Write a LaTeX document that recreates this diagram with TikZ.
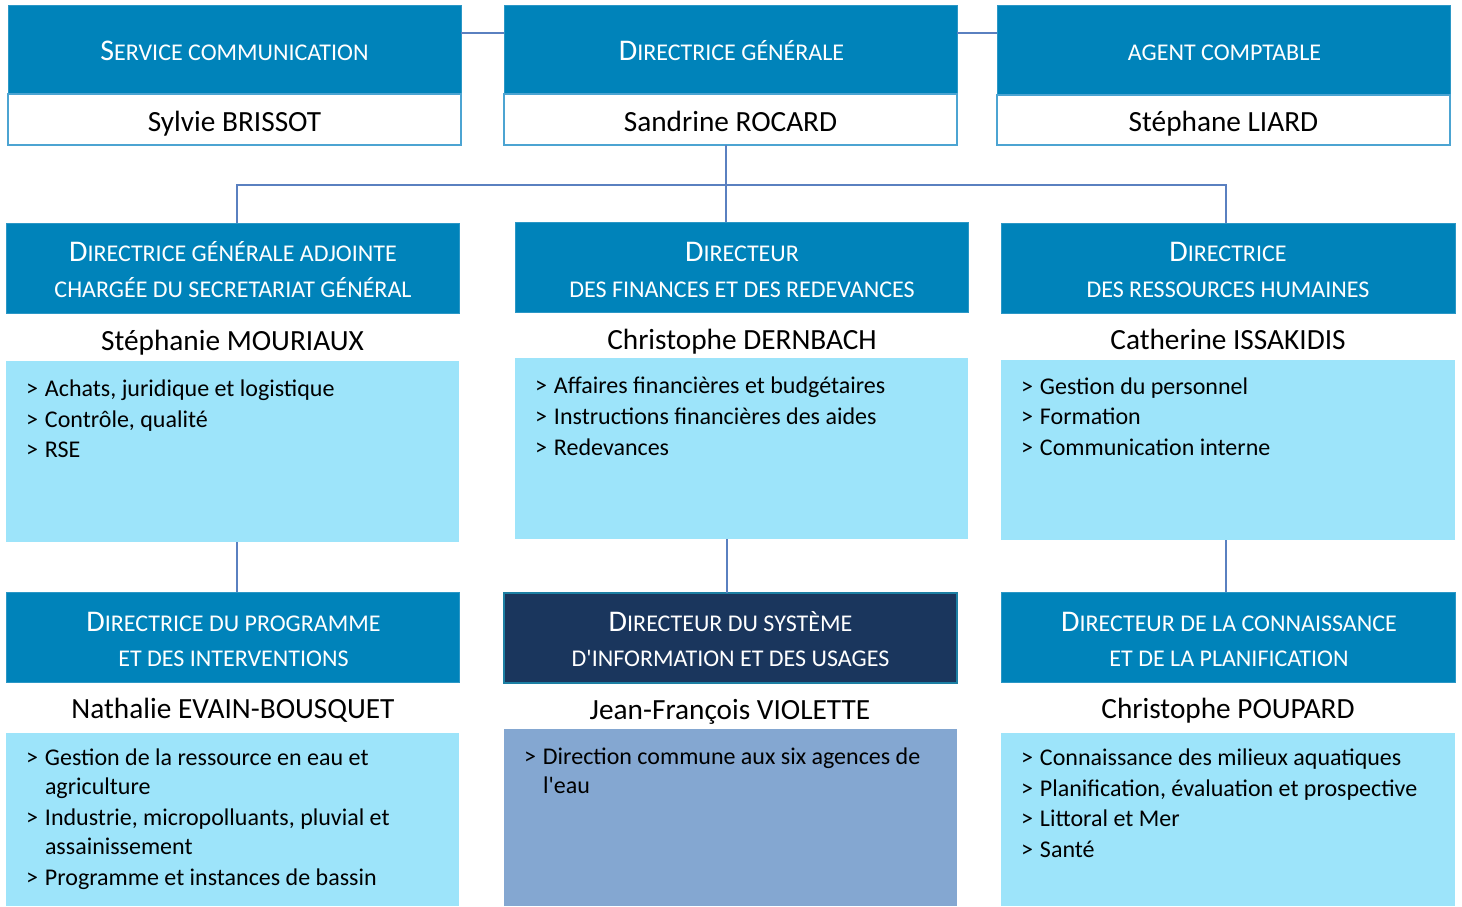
\documentclass[tikz,border=0pt]{standalone}
\usepackage{fontspec}
\setmainfont{Carlito}
\usetikzlibrary{calc}
\definecolor{hdrblue}{HTML}{0083BA}
\definecolor{hdredge}{HTML}{2B97C6}
\definecolor{lightcyan}{HTML}{9DE4FA}
\definecolor{navy}{HTML}{1A365D}
\definecolor{navyedge}{HTML}{1C7FA3}
\definecolor{steel}{HTML}{84A7D1}
\definecolor{linkblue}{HTML}{5A80C0}
\definecolor{nameedge}{HTML}{4CA4D2}
\newcommand\scT[2]{{\fontsize{30}{34}\selectfont #1}{\fontsize{24}{34}\selectfont #2}}
\newcommand\scS[1]{{\fontsize{24}{34}\selectfont #1}}
\newcommand\mkbox[6]{%
  \node[#1, minimum width={(#5-#3)*1pt}, minimum height={(#6-#4)*1pt}]
    (#2) at ({(#3+#5)/2},{(#4+#6)/2}) {};}
\newcommand\arr{\makebox[19pt][l]{>}}
\newcommand\ind{\makebox[19pt]{}}
\begin{document}
\begin{tikzpicture}[x=1pt,y=-1pt,
  every node/.style={inner sep=0pt, outer sep=0pt},
  hdr/.style={fill=hdrblue, draw=hdredge, line width=0.8pt},
  hdrdark/.style={fill=navy, draw=navyedge, line width=1.2pt},
  namebox/.style={fill=white, draw=nameedge, line width=1.2pt},
  listbox/.style={fill=lightcyan},
  listdark/.style={fill=steel},
  title/.style={text=white, anchor=base},
  person/.style={text=black, anchor=base, font=\fontsize{29.3}{34}\selectfont},
  item/.style={text=black, anchor=base west, font=\fontsize{24}{30}\selectfont},
  link/.style={draw=linkblue, line width=1.6pt}
]
\path[use as bounding box] (0,0) rectangle (1462,907);

% ---------- top row ----------
\mkbox{hdr}{h1}{8}{5}{461}{94}
\mkbox{namebox}{n1}{8}{94}{461}{145}
\mkbox{hdr}{h2}{504}{5}{957}{94}
\mkbox{namebox}{n2}{504}{94}{957}{145}
\mkbox{hdr}{h3}{997}{5}{1450}{95}
\mkbox{namebox}{n3}{997}{95}{1450}{145}

\node[title] (t1) at (234.5,60) {\scT{S}{ERVICE COMMUNICATION}};
\node[title] (t2) at (731.5,60) {\scT{D}{IRECTRICE GÉNÉRALE}};
\node[title] (t3) at (1224.5,60) {\scS{AGENT COMPTABLE}};
\node[person] (p1) at (234.5,131.5) {Sylvie BRISSOT};
\node[person] (p2) at (730.5,131.5) {Sandrine ROCARD};
\node[person] (p3) at (1223.5,131.5) {Stéphane LIARD};

% ---------- second row ----------
\mkbox{hdr}{d1}{6}{223}{459}{313}
\mkbox{hdr}{d2}{515}{222}{968}{312}
\mkbox{hdr}{d3}{1001}{223}{1455}{313}
\mkbox{listbox}{l1}{6}{361}{459}{542}
\mkbox{listbox}{l2}{515}{358}{968}{539}
\mkbox{listbox}{l3}{1001}{360}{1455}{540}

\node[title] (t4a) at (233,261) {\scT{D}{IRECTRICE GÉNÉRALE ADJOINTE}};
\node[title] (t4b) at (233,297) {\scS{CHARGÉE DU SECRETARIAT GÉNÉRAL}};
\node[title] (t5a) at (742,261) {\scT{D}{IRECTEUR}};
\node[title] (t5b) at (742,297) {\scS{DES FINANCES ET DES REDEVANCES}};
\node[title] (t6a) at (1228,261) {\scT{D}{IRECTRICE}};
\node[title] (t6b) at (1228,297) {\scS{DES RESSOURCES HUMAINES}};

\node[person] (p4) at (232.5,350.5) {Stéphanie MOURIAUX};
\node[person] (p5) at (742,349.5) {Christophe DERNBACH};
\node[person] (p6) at (1228,349.5) {Catherine ISSAKIDIS};

\node[item] (i1a) at (26,396) {\arr Achats, juridique et logistique};
\node[item] (i1b) at (26,427) {\arr Contrôle, qualité};
\node[item] (i1c) at (26,457) {\arr RSE};
\node[item] (i2a) at (535,393) {\arr Affaires financières et budgétaires};
\node[item] (i2b) at (535,424) {\arr Instructions financières des aides};
\node[item] (i2c) at (535,455) {\arr Redevances};
\node[item] (i3a) at (1021,394) {\arr Gestion du personnel};
\node[item] (i3b) at (1021,424) {\arr Formation};
\node[item] (i3c) at (1021,455) {\arr Communication interne};

% ---------- third row ----------
\mkbox{hdr}{h4}{6}{592}{459}{682}
\mkbox{hdrdark}{h5}{504}{593}{957}{683}
\mkbox{hdr}{h6}{1001}{592}{1455}{682}
\mkbox{listbox}{l4}{6}{733}{459}{906}
\mkbox{listdark}{l5}{504}{729}{957}{906}
\mkbox{listbox}{l6}{1001}{733}{1455}{906}

\node[title] (t7a) at (233.5,631) {\scT{D}{IRECTRICE DU PROGRAMME}};
\node[title] (t7b) at (233.5,666) {\scS{ET DES INTERVENTIONS}};
\node[title] (t8a) at (730.5,631) {\scT{D}{IRECTEUR DU SYSTÈME}};
\node[title] (t8b) at (730.5,666) {\scS{D\textquotesingle INFORMATION ET DES USAGES}};
\node[title] (t9a) at (1229,631) {\scT{D}{IRECTEUR DE LA CONNAISSANCE}};
\node[title] (t9b) at (1229,666) {\scS{ET DE LA PLANIFICATION}};

\node[person] (p7) at (233,718.5) {Nathalie EVAIN-BOUSQUET};
\node[person] (p8) at (730,719.5) {Jean-François VIOLETTE};
\node[person] (p9) at (1228,718.5) {Christophe POUPARD};

\node[item] (i4a) at (26,765) {\arr Gestion de la ressource en eau et};
\node[item] (i4b) at (26,794) {\ind agriculture};
\node[item] (i4c) at (26,825) {\arr Industrie, micropolluants, pluvial et};
\node[item] (i4d) at (26,854) {\ind assainissement};
\node[item] (i4e) at (26,885) {\arr Programme et instances de bassin};
\node[item] (i5a) at (524,764) {\arr Direction commune aux six agences de};
\node[item] (i5b) at (524,793) {\ind l\textquotesingle eau};
\node[item] (i6a) at (1021,765) {\arr Connaissance des milieux aquatiques};
\node[item] (i6b) at (1021,796) {\arr Planification, évaluation et prospective};
\node[item] (i6c) at (1021,826) {\arr Littoral et Mer};
\node[item] (i6d) at (1021,857) {\arr Santé};

% ---------- connectors ----------
\coordinate (j1) at (237,185);
\coordinate (j2) at (726,185);
\coordinate (j3) at (1226,185);
\coordinate (k2) at (727,560);
\draw[link] ($(h1.north east)+(0,28)$) -- ($(h2.north west)+(0,28)$);
\draw[link] ($(h2.north east)+(0,28)$) -- ($(h3.north west)+(0,28)$);
\draw[link] (j2 |- n2.south) -- (j2 |- d2.north);
\draw[link] (j1 |- d1.north) -- (j1) -- (j3) -- (j3 |- d3.north);
\draw[link] (j1 |- l1.south) -- (j1 |- h4.north);
\draw[link] (k2 |- l2.south) -- (k2 |- h5.north);
\draw[link] (j3 |- l3.south) -- (j3 |- h6.north);
\end{tikzpicture}
\end{document}
